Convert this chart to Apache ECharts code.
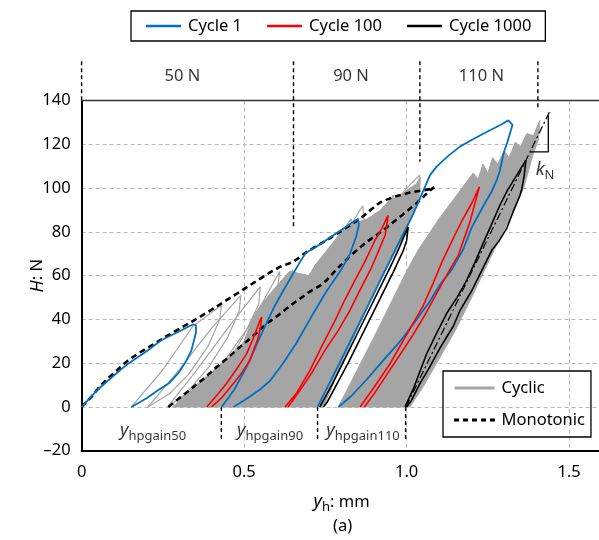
<!DOCTYPE html>
<html>
<head>
<meta charset="utf-8">
<script src="https://cdn.jsdelivr.net/npm/echarts@6/dist/echarts.min.js"></script>
<style>
html,body{margin:0;padding:0;background:#fff;}
#chart{width:599px;height:540px;}
</style>
</head>
<body>
<div id="chart"></div>
<script>
// ---------------- data: [y_h (mm), H (N)] ----------------
const xTicks = [0, 0.5, 1.0, 1.5];
const yTicks = [-20, 0, 20, 40, 60, 80, 100, 120, 140];

// Cycle 1 (blue)
const cycle1S1 = [[0,0],[0.05,8],[0.1,14.5],[0.143,19.8],[0.2,25.5],[0.245,30.5],[0.3,34.5],[0.343,37.8],[0.352,37.3],[0.352,34],[0.345,30],[0.338,25.9],[0.32,20.5],[0.297,15.3],[0.27,11],[0.235,7.6],[0.2,4],[0.153,0]];
const cycle1S2 = [[0.431,0],[0.47,8],[0.51,19],[0.549,32],[0.59,45],[0.62,53],[0.651,61],[0.675,67],[0.69,70.5],[0.72,73],[0.76,77],[0.8,81],[0.83,84],[0.851,86],[0.853,83],[0.845,78],[0.826,70],[0.8,63],[0.754,53],[0.71,42],[0.66,29],[0.62,20],[0.58,12],[0.549,8],[0.51,4],[0.467,0]];
const cycle1S3 = [[0.726,0],[0.8,22],[0.88,46],[0.964,71.6],[1.02,88],[1.072,106],[1.093,110],[1.13,115],[1.164,119],[1.2,122],[1.246,125.7],[1.29,129],[1.313,131],[1.326,129],[1.31,121],[1.298,115.8],[1.287,108],[1.277,103.6],[1.26,98],[1.246,94.5],[1.2,82],[1.174,72],[1.14,63],[1.103,56],[1.07,48],[1.031,40],[0.98,30],[0.928,21.3],[0.88,13],[0.83,5],[0.79,0]];

// Cycle 100 (red)
const cycle100S1 = [[0.385,0],[0.42,6],[0.446,10.7],[0.48,18],[0.508,24.4],[0.53,32],[0.549,39.6],[0.554,41.1],[0.551,37],[0.544,32],[0.518,21.3],[0.49,15],[0.467,10.7],[0.43,4],[0.4,0]];
const cycle100S2 = [[0.626,0],[0.66,6],[0.703,16.8],[0.74,28],[0.78,39.6],[0.81,49],[0.841,57.9],[0.87,66],[0.903,76.2],[0.925,82],[0.943,87.6],[0.938,82],[0.934,78.5],[0.91,70],[0.888,62.5],[0.855,53],[0.826,44.3],[0.79,35],[0.749,26],[0.71,16],[0.672,7.6],[0.645,2],[0.635,0]];
const cycle100S3 = [[0.857,0],[0.9,9],[0.95,20],[1.0,33],[1.05,46],[1.08,56],[1.108,66],[1.14,76],[1.17,85],[1.2,93],[1.224,100.6],[1.21,93],[1.195,84.6],[1.159,69.3],[1.13,62],[1.1,54],[1.06,43],[1.02,33],[0.98,24],[0.94,15],[0.9,6],[0.87,0]];

// Cycle 1000 (black)
const cycle1000S2 = [[0.733,0],[0.77,10],[0.81,22],[0.86,37],[0.91,52],[0.95,64],[0.975,72],[0.995,79],[1.005,82.3],[1.0,76],[0.99,71.6],[0.96,62],[0.92,50],[0.87,35],[0.82,20],[0.78,9],[0.755,2],[0.744,0]];
const cycle1000S3 = [[0.995,0],[1.02,8],[1.062,24.4],[1.09,33],[1.123,42.7],[1.155,50],[1.185,58],[1.21,66],[1.236,75],[1.26,83],[1.287,92.2],[1.31,99],[1.339,106],[1.367,112.8],[1.362,106],[1.355,100],[1.349,96.8],[1.33,90],[1.308,81.6],[1.285,76],[1.262,71.6],[1.23,62],[1.2,53],[1.164,44],[1.144,37],[1.103,27],[1.07,18],[1.041,10.7],[1.015,3],[1.0,0]];

// Monotonic (dashed)
const mono1 = [[0,0],[0.03,4.6],[0.06,10],[0.086,13.7],[0.143,21.3],[0.18,25],[0.225,29],[0.28,34],[0.338,38.9],[0.39,43.5],[0.43,47.3],[0.48,52],[0.533,57.1],[0.58,61.5],[0.61,64],[0.651,66.3],[0.693,70.9],[0.74,75],[0.795,80],[0.857,86.1],[0.918,93.5],[0.96,96],[1.01,98],[1.05,99],[1.082,99.8]];
const mono2 = [[0.267,0],[0.305,4.5],[0.344,9.1],[0.38,13.5],[0.416,18.3],[0.45,22.5],[0.487,27.4],[0.52,31.5],[0.57,38.1],[0.61,42.5],[0.651,47.3],[0.7,52.5],[0.744,56.4],[0.785,63],[0.83,69.5],[0.877,75.4],[0.93,81],[0.98,87],[1.03,93],[1.072,99],[1.085,100.5]];

// Cyclic (grey) single loops
const grey1 = [[0.153,0],[0.25,17],[0.343,37],[0.43,46.5],[0.425,40],[0.39,28],[0.33,15],[0.27,6],[0.204,0]];
const grey2 = [[0.204,0],[0.3,17],[0.4,36],[0.49,51],[0.485,44],[0.45,32],[0.39,18],[0.32,6],[0.265,0]];
const grey3 = [[0.265,0],[0.35,16],[0.45,36],[0.55,55],[0.545,47],[0.5,33],[0.44,18],[0.37,5],[0.33,0]];
const grey4 = [[0.33,0],[0.42,17],[0.52,38],[0.61,62],[0.6,52],[0.55,37],[0.48,18],[0.4,4],[0.37,0]];
const grey5 = [[0.37,0],[0.47,20],[0.56,42],[0.65,62.5],[0.64,52],[0.58,34],[0.5,15],[0.43,0]];
const grey6 = [[0.45,0],[0.6,35],[0.72,65],[0.8,80],[0.83,86],[0.82,72],[0.75,55],[0.65,30],[0.55,10],[0.48,0]];
const grey7 = [[0.5,0],[0.65,40],[0.76,70],[0.84,86],[0.865,92],[0.87,84],[0.82,65],[0.7,32],[0.6,10],[0.53,0]];
const grey8 = [[0.55,0],[0.7,40],[0.85,78],[0.94,92],[0.96,97],[0.95,86],[0.88,68],[0.76,38],[0.64,10],[0.6,0]];
const grey9 = [[0.6,0],[0.75,42],[0.9,82],[1.0,100],[1.04,106],[1.03,95],[0.96,75],[0.84,42],[0.7,10],[0.65,0]];
// Cyclic (grey) dense bands
const greyBand12 = [[0.28,0],[0.344,9],[0.416,18],[0.487,27.4],[0.5,30],[0.53,42],[0.57,50],[0.61,57],[0.64,62],[0.67,61],[0.7,60],[0.72,65],[0.76,72],[0.8,80],[0.84,84],[0.88,86],[0.92,90],[0.95,95],[0.98,96],[1.0,99],[1.03,102],[1.042,105],[1.04,97],[1.02,88],[0.98,75],[0.92,58],[0.86,39],[0.8,20],[0.745,0]];
const greyBand3 = [[0.79,0],[0.9,32],[1.0,62],[1.035,71.6],[1.1,86],[1.15,96],[1.19,104],[1.205,107],[1.22,104],[1.235,111],[1.25,107],[1.265,114],[1.28,111],[1.3,117],[1.315,114],[1.335,121],[1.35,119],[1.37,125],[1.39,124],[1.41,131],[1.405,122],[1.39,116],[1.375,108],[1.36,100],[1.32,87],[1.27,72],[1.2,50],[1.15,35],[1.1,22],[1.05,9],[1.01,0]];

// Annotations
const stiffnessLine = [[0.998,0],[1.44,135]];
const stiffnessTriangle = [[1.38,116.6],[1.436,116.6],[1.436,133.4]];
const stageDividerX = [0, 0.652, 1.041, 1.404];
const stageDividerBottom = [140, 82.4, 112.1, 135.7];
const stageDividerTop = 158;
const stageLabels = ['50 N', '90 N', '110 N'];
const stageLabelX = [0.31, 0.829, 1.23];
const stageLabelY = 151.3;
const gainX = [0.43, 0.726, 0.997];
const gainBottom = -15.4;
const gainLabels = ['hpgain50', 'hpgain90', 'hpgain110'];
const gainLabelX = [0.22, 0.58, 0.866];
const gainLabelY = -11.1;
const kLabelPos = [1.426, 108.2];

// ---------------- chart ----------------
const FONT = 'Noto Sans';
const TXT = '#000';
const BLUE = '#0070c0', RED = '#ff0000', BLACK = '#000000', GREY = '#a5a5a5';
const SOLID_ICON = 'path://M0,0H40V3H0Z';
const DASH_ICON = 'path://M0,0H5V3H0Z M9,0H14V3H9Z M18,0H23V3H18Z M27,0H32V3H27Z M36,0H41V3H36Z';
const chart = echarts.init(document.getElementById('chart'), null, {renderer: 'canvas'});

function line(name, data, color, width, type, z) {
  return {type: 'line', name: name, data: data, symbol: 'none', showSymbol: false,
    lineStyle: {color: color, width: width, type: type || 'solid'}, itemStyle: {color: color},
    z: z, silent: true, animation: false, clip: true};
}
function poly(points, z) {
  return {type: 'custom', name: 'Cyclic', coordinateSystem: 'cartesian2d', data: points,
    encode: {x: 0, y: 1}, z: z, silent: true, animation: false,
    renderItem: function (params, api) {
      if (params.dataIndex !== 0) return null;
      const pts = points.map(function (p) { return api.coord(p); });
      return {type: 'polygon', shape: {points: pts}, style: {fill: GREY, stroke: GREY, lineWidth: 1}};
    }};
}

const series = [];
[grey1, grey2, grey3, grey4, grey5, grey6, grey7, grey8, grey9].forEach(function (d) {
  series.push(line('Cyclic', d, GREY, 1.2, 'solid', 3));
});
series.push(poly(greyBand12, 2));
series.push(poly(greyBand3, 2));
series.push(line('Monotonic', mono1, BLACK, 2.6, [6, 4], 5));
series.push(line('Monotonic', mono2, BLACK, 2.6, [6, 4], 5));
[cycle1S1, cycle1S2, cycle1S3].forEach(function (d) { series.push(line('Cycle 1', d, BLUE, 1.8, 'solid', 6)); });
[cycle100S1, cycle100S2, cycle100S3].forEach(function (d) { series.push(line('Cycle 100', d, RED, 1.6, 'solid', 7)); });
[cycle1000S2, cycle1000S3].forEach(function (d) { series.push(line('Cycle 1000', d, BLACK, 1.6, 'solid', 8)); });
series.push(line('kN', stiffnessLine, BLACK, 1.2, [8, 3, 2, 3], 8));
series.push(line('kN', stiffnessTriangle, BLACK, 1.3, 'solid', 8));
stageDividerX.forEach(function (x, i) {
  const s = line('divider', [[x, stageDividerTop], [x, stageDividerBottom[i]]], BLACK, 1.4, [4, 3], 9);
  s.clip = false; series.push(s);
});
gainX.forEach(function (x) {
  const s = line('divider', [[x, 0], [x, gainBottom]], BLACK, 1.4, [4, 3], 9);
  s.clip = false; series.push(s);
});
const richSub = {
  i: {fontFamily: FONT, fontSize: 18, fontStyle: 'italic', color: TXT},
  s: {fontFamily: FONT, fontSize: 13, color: TXT, padding: [10, 0, 0, 0]},
  n: {fontFamily: FONT, fontSize: 16.5, color: TXT}
};
series.push({type: 'scatter', name: 'labels', silent: true, animation: false, clip: false, symbolSize: 0,
  data: stageLabels.map(function (t, i) { return {value: [stageLabelX[i], stageLabelY], name: t}; }),
  label: {show: true, position: 'inside', formatter: '{b}', fontFamily: FONT, fontSize: 16.5, color: TXT}});
series.push({type: 'scatter', name: 'labels', silent: true, animation: false, clip: false, symbolSize: 0,
  data: gainLabels.map(function (t, i) { return {value: [gainLabelX[i], gainLabelY], name: t}; }),
  label: {show: true, position: 'inside', formatter: function (p) { return '{i|y}{s|' + p.name + '}'; }, rich: richSub}});
series.push({type: 'scatter', name: 'labels', silent: true, animation: false, clip: false, symbolSize: 0,
  data: [{value: kLabelPos, name: 'N'}],
  label: {show: true, position: 'inside', formatter: '{i|k}{s|N}', rich: richSub}});

const option = {
  animation: false,
  backgroundColor: '#fff',
  textStyle: {fontFamily: FONT},
  grid: {left: 81.6, top: 100.7, width: 520, height: 350, containLabel: false, outerBoundsMode: 'none'},
  legend: [
    {data: [{name: 'Cycle 1', icon: SOLID_ICON}, {name: 'Cycle 100', icon: SOLID_ICON}, {name: 'Cycle 1000', icon: SOLID_ICON}],
      left: 131, top: 11, orient: 'horizontal',
      padding: [6, 14, 6, 15], itemGap: 25, itemWidth: 35, itemHeight: 3,
      borderColor: '#000', borderWidth: 1.3, selectedMode: false,
      textStyle: {fontFamily: FONT, fontSize: 16.5, lineHeight: 18, color: TXT, padding: [0, 0, 0, 2]}},
    {data: [{name: 'Cyclic', icon: SOLID_ICON}, {name: 'Monotonic', icon: DASH_ICON}],
      left: 443, top: 371, orient: 'vertical',
      padding: [8, 6, 8, 11], itemGap: 14, itemWidth: 44, itemHeight: 3,
      borderColor: '#000', borderWidth: 1.3, selectedMode: false,
      textStyle: {fontFamily: FONT, fontSize: 16.5, lineHeight: 18, color: TXT}}
  ],
  xAxis: [
    {type: 'value', min: 0, max: 1.6, interval: 0.5,
      axisLine: {show: true, onZero: false, lineStyle: {color: '#000', width: 2}},
      axisTick: {show: false},
      axisLabel: {fontFamily: FONT, fontSize: 16.5, color: TXT, margin: 13, showMaxLabel: false,
        formatter: function (v) { return v === 0 ? '0' : v.toFixed(1); }},
      splitLine: {show: true, lineStyle: {color: '#b8b8b8', width: 1, type: [4, 3]}},
      name: '{i|y}{s|h}{n|: mm}', nameLocation: 'middle', nameGap: 40, nameMoveOverlap: false,
      nameTextStyle: {rich: richSub}},
    {type: 'value', min: 0, max: 1.6, position: 'top',
      axisLine: {show: true, onZero: false, lineStyle: {color: '#333', width: 1.3}},
      axisTick: {show: false}, axisLabel: {show: false}, splitLine: {show: false}}
  ],
  yAxis: {type: 'value', min: -20, max: 140, interval: 20,
    axisLine: {show: true, onZero: false, lineStyle: {color: '#000', width: 2}},
    axisTick: {show: false},
    axisLabel: {fontFamily: FONT, fontSize: 16.5, color: TXT, margin: 11,
      formatter: function (v) { return String(v).replace('-', '\u2013'); }},
    splitLine: {show: true, lineStyle: {color: '#b8b8b8', width: 1, type: [4, 3]}},
    name: '{i|H}{n|: N}', nameLocation: 'middle', nameGap: 35, nameMoveOverlap: false,
    nameTextStyle: {rich: richSub}},
  title: {text: '(a)', left: 328, top: 513, textStyle: {fontFamily: FONT, fontSize: 16.5, fontWeight: 'normal', color: TXT}},
  series: series
};
chart.setOption(option);
</script>
</body>
</html>
